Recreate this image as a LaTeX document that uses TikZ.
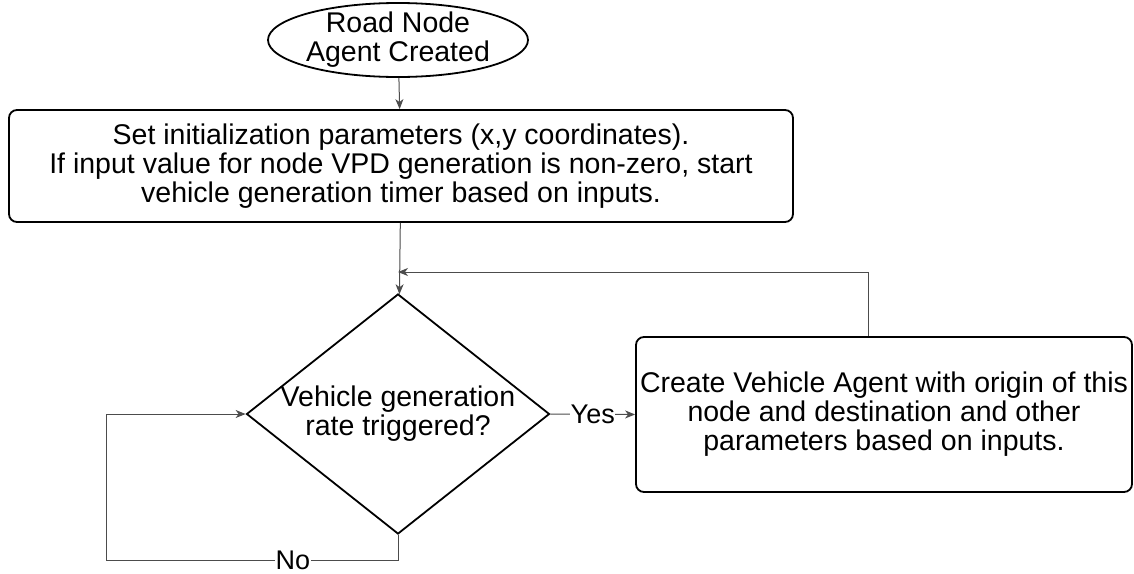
\documentclass[tikz,border=0pt]{standalone}
\usepackage{fontspec}
\setmainfont{Liberation Sans}
\usetikzlibrary{arrows.meta,shapes.geometric}

\begin{document}
\begin{tikzpicture}[x=1pt, y=-1pt,
        rbox/.style={draw, line width=1.8pt, rounded corners=8pt, align=center,
          inner sep=0pt, font=\fontsize{28.5}{29}\selectfont},
        startnode/.style={draw, ellipse, line width=1.8pt, align=center,
          inner xsep=0pt, inner ysep=-14pt, minimum width=260pt, minimum height=74pt,
          font=\fontsize{28.5}{29}\selectfont},
        decision/.style={draw, diamond, line width=1.8pt, align=center,
          inner xsep=-40pt, inner ysep=0pt, aspect=1, minimum width=303pt,
          minimum height=240pt, font=\fontsize{28.5}{29}\selectfont},
        lbl/.style={fill=white, inner sep=0.5pt, font=\fontsize{27}{29}\selectfont},
        line/.style={draw=black!70, line width=1pt},
        >={Stealth[length=10pt,width=8pt,inset=3pt]}]
        \useasboundingbox (0,0) rectangle (1134,573);
        \node (start) at (398,40) [startnode] {Road Node\\Agent Created};
        \node (init) at (401,166) [rbox, minimum width=784pt, minimum height=112pt]
          {Set initialization parameters (x,y coordinates).\\
           If input value for node VPD generation is non-zero, start\\
           vehicle generation timer based on inputs.};
        \node (dec) at (398,414) [decision] {Vehicle generation\\rate triggered?};
        \node (create) at (884,414.5) [rbox, minimum width=496pt, minimum height=155pt]
          {Create Vehicle Agent with origin of this\\
           node and destination and other\\
           parameters based on inputs.};
        \coordinate (join) at (398,272);
        \coordinate (up) at (868,272);
        \coordinate (loopB) at (106,560);
        \coordinate (loopT) at (106,414);
        \draw[line,->] (start) -- (init);
        \draw[line,->] (init) -- (dec);
        \draw[line,->] (create.north -| up) -- (up) -- (join);
        \draw[line,->] (dec.east) -- node[lbl] (yes) {Yes} (create.west);
        \draw[line,->] (dec.south) |- node[lbl, pos=0.68] (no) {No} (loopB)
          -- (loopT) -- (dec.west);
\end{tikzpicture}
\end{document}
